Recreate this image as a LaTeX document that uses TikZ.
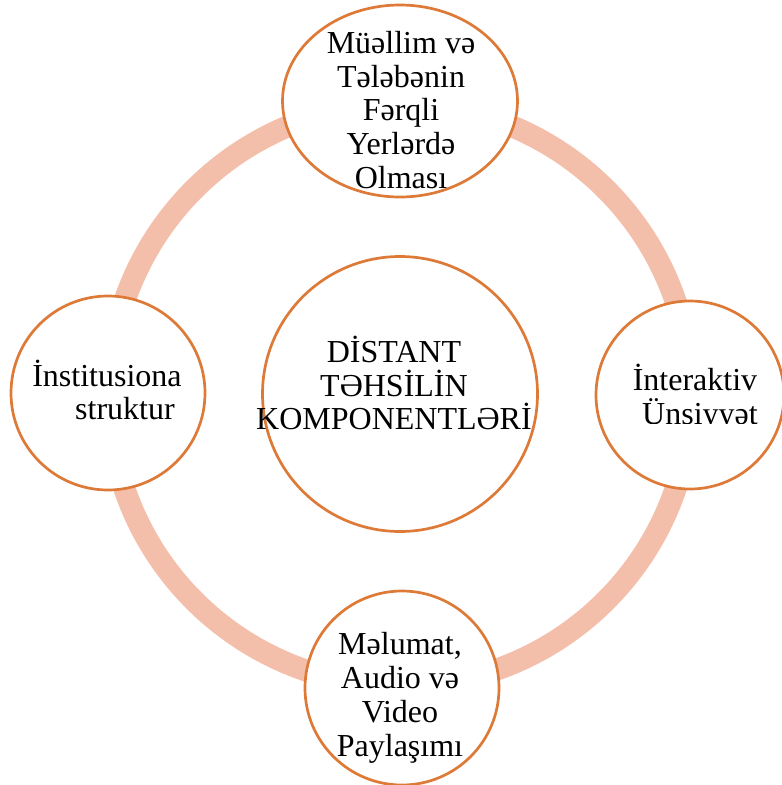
\documentclass[tikz,border=0pt]{standalone}
\usepackage{fontspec}
\setmainfont{Liberation Serif}
\usepackage{tikz}
\usetikzlibrary{shapes.geometric,positioning}
\definecolor{ringpink}{RGB}{244,191,170}
\definecolor{rimorange}{RGB}{222,122,56}

\begin{document}
\begin{tikzpicture}[x=1pt,y=-1pt,
      bubble/.style={circle,draw=rimorange,line width=2.7pt,fill=white,
        inner sep=0pt,minimum size=#1},
      oval/.style={ellipse,draw=rimorange,line width=2.7pt,fill=white,
        inner sep=0pt,minimum width=235pt,minimum height=192pt},
      txt/.style={font=\fontsize{32}{33.8}\selectfont,align=center,inner sep=0pt}]

     \useasboundingbox (0,0) rectangle (782,785);

     \draw[ringpink,line width=22pt] (400,395) circle[radius=291];

     \node[bubble=275pt] (centre) at (400,394) {};
     \node[oval] (teach) at (400,101) {};
     \node[bubble=194pt] (inst) at (108,393) {};
     \node[bubble=188pt] (inter) at (690,395) {};
     \node[bubble=194pt] (media) at (402,688) {};

     \node[txt] (centretxt) at (394,383) {DİSTANT\\TƏHSİLİN\\KOMPONENTLƏRİ};
     \node[txt] (teachtxt) at (401,110) {Müəllim və\\Tələbənin\\Fərqli\\Yerlərdə\\Olması};
     \node[txt] (insttxt) at (107,390) {İnstitusiona\\\hspace*{36pt}struktur};
     \node[txt] (mediatxt) at (400,698) {Məlumat,\\Audio və\\Video\\Paylaşımı};
     \begin{scope}
       \clip (600,340) rectangle (782,423);
       \node[txt] (intertxt) at (695,398) {İnteraktiv\\\hspace*{10pt}Ünsiyyət};
     \end{scope}

\end{tikzpicture}
\end{document}
